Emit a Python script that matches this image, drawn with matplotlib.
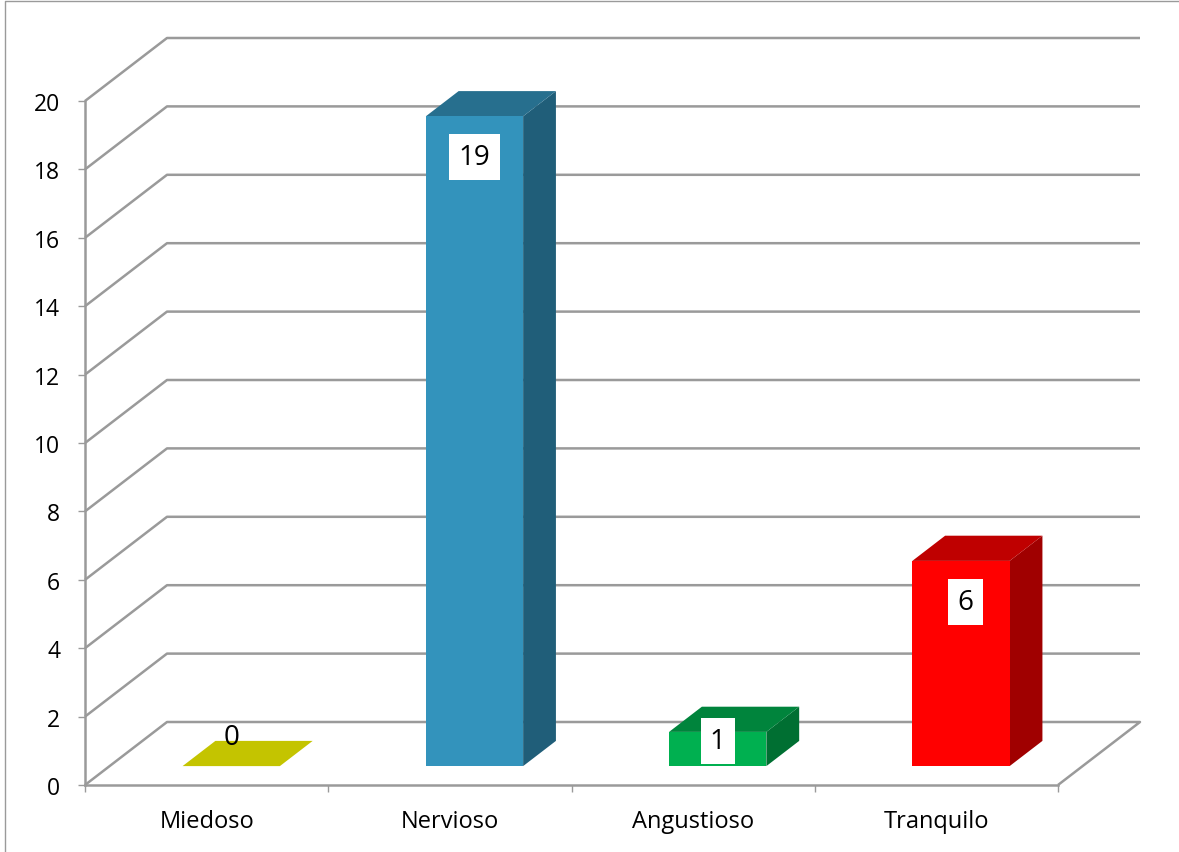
import matplotlib
matplotlib.use("Agg")
import matplotlib.pyplot as plt
from matplotlib.lines import Line2D
from matplotlib.patches import Polygon

categories = ["Miedoso", "Nervioso", "Angustioso", "Tranquilo"]
values = [0, 19, 1, 6]
front_colors = ["#C4C400", "#3393BC", "#00B050", "#FF0000"]
top_colors = ["#C4C400", "#276F8E", "#00843C", "#BF0000"]
side_colors = ["#C4C400", "#205E79", "#006F32", "#A00000"]
y_ticks = list(range(0, 21, 2))

GRAY = "#9A9A9A"
# depth of the 3d box, in data units
DX = 82 / 243.25
DY = 63 / 34.2
BAR_WIDTH = 0.4
D_FRONT = 0.3
D_BACK = 0.7

plt.rcParams["font.family"] = ["Open Sans", "DejaVu Sans"]

fig = plt.figure(figsize=(11.79, 8.53), dpi=100)
ax = fig.add_axes([85 / 1179, (853 - 786) / 853, 973 / 1179, 684 / 853])
ax.set_xlim(0, 4)
ax.set_ylim(0, 20)


def proj(x, y, d):
    return (x + d * DX, y + d * DY)


#Walls and gridlines
for v in y_ticks:
    pts = [proj(0, v, 0), proj(0, v, 1), proj(4, v, 1)]
    if v == 0:
        pts.append(proj(4, v, 0))
    ax.plot([p[0] for p in pts], [p[1] for p in pts], color=GRAY, lw=1.8,
            clip_on=False, zorder=1, solid_capstyle="butt")

#Bars
for i, v in enumerate(values):
    x0 = i + 0.5 - BAR_WIDTH / 2
    x1 = i + 0.5 + BAR_WIDTH / 2
    front = [proj(x0, 0, D_FRONT), proj(x1, 0, D_FRONT), proj(x1, v, D_FRONT), proj(x0, v, D_FRONT)]
    side = [proj(x1, 0, D_FRONT), proj(x1, 0, D_BACK), proj(x1, v, D_BACK), proj(x1, v, D_FRONT)]
    top = [proj(x0, v, D_FRONT), proj(x1, v, D_FRONT), proj(x1, v, D_BACK), proj(x0, v, D_BACK)]
    ax.add_patch(Polygon(side, facecolor=side_colors[i], edgecolor="none", clip_on=False, zorder=3))
    ax.add_patch(Polygon(top, facecolor=top_colors[i], edgecolor="none", clip_on=False, zorder=3))
    if v > 0:
        ax.add_patch(Polygon(front, facecolor=front_colors[i], edgecolor="none", clip_on=False, zorder=4))

    #Data labels
    cx, top_y = proj(i + 0.5, v, D_FRONT)
    if v == 0:
        ax.text(cx, top_y + 29 / 34.2, str(v), ha="center", va="center",
                fontsize=20, zorder=5, clip_on=False)
    else:
        below = 41 if v > 1 else 9
        # the 6 sits a little right of centre in the original
        nudge = 4.5 / 243.25 if v == 6 else 0
        ax.text(cx + nudge, top_y - below / 34.2, str(v), ha="center", va="center", fontsize=20, zorder=5,
                bbox=dict(facecolor="white", edgecolor="none", pad=6.5))

#Axes
for s in ["top", "right"]:
    ax.spines[s].set_visible(False)
for s in ["left", "bottom"]:
    ax.spines[s].set_color(GRAY)
    ax.spines[s].set_linewidth(1.8)
ax.patch.set_visible(False)

ax.set_yticks(y_ticks)
ax.tick_params(axis="y", length=5, width=1, color=GRAY, labelsize=16.5, pad=13)
ax.set_xticks([0, 1, 2, 3, 4])
ax.set_xticklabels([])
ax.set_xticks([i + 0.5 for i in range(4)], minor=True)
ax.set_xticklabels(categories, minor=True)
ax.tick_params(axis="x", which="major", length=5, width=1, color=GRAY)
ax.tick_params(axis="x", which="minor", length=0, labelsize=17, pad=17)

#Chart frame
fig.add_artist(Line2D([5 / 1179, 5 / 1179, 1], [0, 1 - 2 / 853, 1 - 2 / 853], color=GRAY, lw=1))

fig.savefig("out.png", dpi=100)
